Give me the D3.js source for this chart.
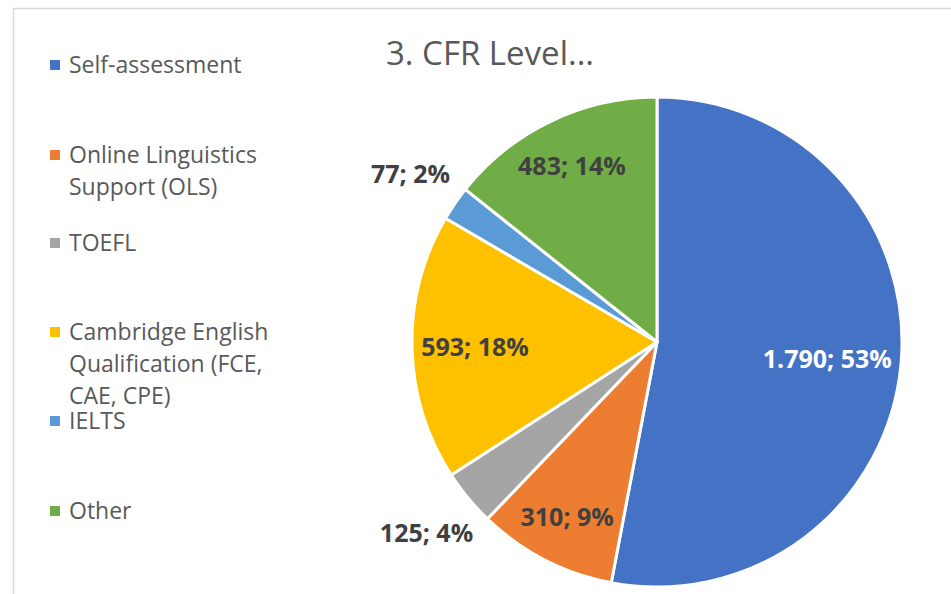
<!DOCTYPE html>
<html>
<head>
<meta charset="utf-8">
<script src="https://cdn.jsdelivr.net/npm/d3@7"></script>
<style>
  body { margin: 0; background: #fff; }
  svg { display: block; font-family: "Open Sans", "Noto Sans", sans-serif; }
</style>
</head>
<body>
<script>
// data
var categories = ["Self-assessment", "Online Linguistics Support (OLS)", "TOEFL",
  "Cambridge English Qualification (FCE, CAE, CPE)", "IELTS", "Other"];
var values = [1790, 310, 125, 593, 77, 483];
var legendLines = [
  ["Self-assessment"],
  ["Online Linguistics", "Support (OLS)"],
  ["TOEFL"],
  ["Cambridge English", "Qualification (FCE,", "CAE, CPE)"],
  ["IELTS"],
  ["Other"]
];
var colors = ["#4472C4", "#ED7D31", "#A5A5A5", "#FFC000", "#5B9BD5", "#70AD47"];
var title = "3. CFR Level...";

var width = 951, height = 594;
var cx = 657, cy = 342, radius = 245;

var svg = d3.select("body").append("svg")
    .attr("width", width)
    .attr("height", height);

// chart frame (cropped at the right and bottom)
svg.append("path")
    .attr("d", "M13.5," + height + "V8.5H" + width)
    .attr("fill", "none")
    .attr("stroke", "#d9d9d9")
    .attr("stroke-width", 1.5);

svg.append("text")
    .attr("x", 490)
    .attr("y", 65)
    .attr("text-anchor", "middle")
    .attr("font-size", 33)
    .attr("fill", "#595959")
    .text(title);

var locale = d3.formatLocale({decimal: ",", thousands: ".", grouping: [3], currency: ["", ""]});
var fmt = locale.format(",d");
var total = d3.sum(values);

var pie = d3.pie().sort(null).value(d => d);
var arcs = pie(values);

var arc = d3.arc().innerRadius(0).outerRadius(radius);
var outArc = d3.arc().innerRadius(radius * 1.22).outerRadius(radius * 1.22);

var g = svg.append("g").attr("transform", `translate(${cx},${cy})`);

g.selectAll("path.slice")
  .data(arcs)
  .enter().append("path")
    .attr("class", "slice")
    .attr("d", arc)
    .attr("fill", (d, i) => colors[i])
    .attr("stroke", "#fff")
    .attr("stroke-width", 3)
    .attr("stroke-linejoin", "round");

var labels = g.selectAll("text.lbl")
  .data(arcs)
  .enter().append("text")
    .attr("class", "lbl")
    .attr("dy", "0.4em")
    .attr("text-anchor", "middle")
    .attr("font-size", 25)
    .attr("font-weight", "bold")
    .attr("fill", (d, i) => i === 0 ? "#fff" : "#404040")
    .text(d => fmt(d.value) + "; " + Math.round(d.value / total * 100) + "%");

// best fit: small slices outside, others pulled in until the label box fits
labels.each(function(d) {
  var el = d3.select(this);
  if (d.value / total < 0.05) {
    var c = outArc.centroid(d);
    el.attr("transform", `translate(${c[0]},${c[1]})`);
    return;
  }
  var w = this.getComputedTextLength() / 2, h = 9;
  var mid = (d.startAngle + d.endAngle) / 2;
  var r = radius * 0.8;
  for (; r > radius * 0.3; r -= 1) {
    var x = r * Math.sin(mid), y = -r * Math.cos(mid);
    var far = d3.max([[x - w, y - h], [x + w, y - h], [x - w, y + h], [x + w, y + h]],
      p => Math.hypot(p[0], p[1]));
    if (far <= radius - 8) break;
  }
  el.attr("transform", `translate(${r * Math.sin(mid)},${-r * Math.cos(mid)})`);
});

// legend
var legendY = [65, 155, 243, 332, 421, 511];
var lg = svg.append("g");
legendLines.forEach((lines, i) => {
  lg.append("rect")
      .attr("x", 50)
      .attr("y", legendY[i] - 5)
      .attr("width", 10)
      .attr("height", 10)
      .attr("fill", colors[i]);
  var t = lg.append("text")
      .attr("x", 69)
      .attr("y", legendY[i])
      .attr("font-size", 23)
      .attr("fill", "#595959");
  lines.forEach((s, j) => {
    t.append("tspan")
        .attr("x", 69)
        .attr("dy", j === 0 ? "0.35em" : 32)
        .text(s);
  });
});
</script>
</body>
</html>
